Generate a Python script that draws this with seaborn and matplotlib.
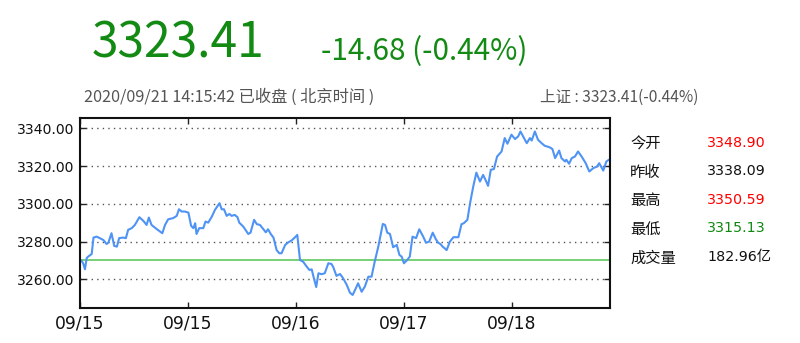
import matplotlib
matplotlib.use("Agg")
import matplotlib.pyplot as plt
import seaborn as sns
import pandas as pd

# ---- data ----
minutes = [2, 7, 11, 15, 18, 26, 30, 37, 44, 52, 59, 63, 70, 76, 82, 87, 96, 102, 107, 115,
           122, 132, 141, 148, 153, 159, 170, 178, 183, 189, 196, 207, 215, 220, 226, 233, 241, 247, 252, 256,
           259, 265, 274, 279, 285, 293, 300, 310, 315, 320, 326, 332, 337, 344, 350, 354, 363, 374, 379, 387,
           393, 400, 413, 418, 424, 430, 437, 443, 448, 456, 463, 470, 476, 483, 489, 496, 504, 510, 515, 518,
           525, 530, 537, 544, 552, 559, 563, 570, 578, 585, 593, 600, 606, 613, 618, 626, 633, 641, 648, 655,
           663, 673, 678, 683, 689, 696, 704, 710, 715, 720, 726, 733, 739, 747, 754, 762, 769, 776, 784, 791,
           796, 801, 806, 815, 822, 830, 841, 848, 853, 861, 867, 874, 881, 889, 896, 902, 907, 913, 920, 927,
           937, 944, 950, 959, 967, 974, 979, 987, 993, 1000, 1004, 1011, 1018, 1026, 1033, 1043, 1050, 1056, 1065, 1070,
           1078, 1081, 1087, 1093, 1100, 1107, 1115, 1124, 1132, 1141, 1149, 1154, 1163, 1170, 1176]
prices = [3270.2, 3268.5, 3265.3, 3271.3, 3272.0, 3273.4, 3282.1, 3282.6, 3281.8, 3280.8,
          3278.7, 3279.4, 3284.4, 3277.7, 3277.3, 3281.8, 3282.1, 3281.8, 3286.2, 3287.1,
          3288.8, 3292.9, 3290.9, 3288.8, 3292.7, 3288.8, 3286.7, 3285.3, 3284.4, 3288.8,
          3291.8, 3292.4, 3293.6, 3297.1, 3295.9, 3295.9, 3295.3, 3288.3, 3287.1, 3289.7,
          3284.0, 3287.1, 3287.1, 3290.6, 3290.0, 3293.2, 3296.8, 3300.3, 3297.1, 3297.1,
          3293.6, 3294.6, 3293.6, 3294.1, 3292.9, 3290.0, 3287.9, 3284.0, 3284.7, 3291.5,
          3289.2, 3288.8, 3284.9, 3286.5, 3284.0, 3282.1, 3275.5, 3273.8, 3273.8, 3278.2,
          3279.6, 3280.5, 3281.8, 3283.5, 3270.2, 3269.3, 3266.7, 3264.9, 3265.3, 3262.3,
          3255.9, 3263.2, 3262.7, 3263.2, 3268.5, 3268.1, 3266.4, 3261.8, 3262.8, 3260.5,
          3257.0, 3252.9, 3251.7, 3255.2, 3257.9, 3253.4, 3256.1, 3261.4, 3261.4, 3269.3,
          3277.3, 3289.3, 3288.8, 3284.7, 3284.0, 3277.0, 3278.2, 3272.9, 3272.0, 3268.5,
          3269.9, 3272.0, 3282.6, 3281.8, 3286.5, 3283.0, 3279.4, 3279.9, 3284.7, 3281.2,
          3279.4, 3278.7, 3277.3, 3275.5, 3279.9, 3282.3, 3282.3, 3289.2, 3289.7, 3291.5,
          3300.3, 3309.1, 3316.5, 3311.8, 3315.3, 3312.3, 3309.5, 3318.0, 3318.4, 3325.0,
          3327.7, 3334.8, 3331.8, 3336.6, 3334.3, 3335.7, 3338.3, 3334.8, 3332.1, 3334.8,
          3333.5, 3338.3, 3333.9, 3332.1, 3330.7, 3330.0, 3329.0, 3324.2, 3328.2, 3324.2,
          3322.4, 3323.3, 3321.2, 3324.2, 3325.0, 3327.7, 3325.0, 3321.5, 3317.1, 3318.9,
          3319.7, 3321.5, 3317.6, 3322.4, 3323.41]
baseline = 3270.2
x_tick_pos = [0, 240, 480, 720, 960]
x_tick_labels = ["09/15", "09/15", "09/16", "09/17", "09/18"]
y_ticks = [3260, 3280, 3300, 3320, 3340]

last_price = "3323.41"
change_text = "-14.68 (-0.44%)"
time_text = "2020/09/21 14:15:42 已收盘 ( 北京时间 )"
index_text = "上证 : 3323.41(-0.44%)"
stat_labels = ["今开", "昨收", "最高", "最低", "成交量"]
stat_values = ["3348.90", "3338.09", "3350.59", "3315.13", "182.96亿"]
stat_colors = ["#ff0000", "#111111", "#ff0000", "#118811", "#111111"]

df = pd.DataFrame({"minute": minutes, "price": prices})

sns.set_theme(style="white")
plt.rcParams["font.family"] = ["DejaVu Sans"]

W, H = 800, 343
fig = plt.figure(figsize=(W / 100, H / 100), dpi=100)
ax = fig.add_axes([80 / W, 1 - 308 / H, 530 / W, (308 - 117.5) / H])

sns.lineplot(data=df, x="minute", y="price", ax=ax, color="#4f93f5", linewidth=1.5)
ax.axhline(baseline, color="#77d077", linewidth=1.4, zorder=1)

ax.set_xlim(0, 1178)
ax.set_ylim(3244.8, 3345.7)
ax.set_xticks(x_tick_pos)
ax.set_xticklabels(x_tick_labels, fontsize=12.3, color="#111111")
ax.set_yticks(y_ticks)
ax.set_yticklabels([f"{v:.2f}" for v in y_ticks], fontsize=10.1, color="#111111")
ax.set_xlabel("")
ax.set_ylabel("")
ax.tick_params(axis="both", direction="in", length=4, width=1, color="#222222",
               top=True, right=True, bottom=True, left=True)
ax.tick_params(axis="x", pad=5)
ax.tick_params(axis="y", pad=4)
ax.yaxis.grid(True, linestyle=(0, (1, 3)), color="#555555", linewidth=1)
ax.xaxis.grid(False)
for s in ax.spines.values():
    s.set_color("#111111")
    s.set_linewidth(1.5)

cjk = ["Noto Sans CJK SC", "DejaVu Sans"]
latin = ["DejaVu Sans", "Noto Sans CJK SC"]

def ftext(x, y, s, family=cjk, **kw):
    fig.text(x / W, 1 - y / H, s, family=family, va="baseline", **kw)

ftext(92, 57.3, last_price, fontsize=34.5, color="#138a13", ha="left")
ftext(321, 60.5, change_text, fontsize=21.4, color="#138a13", ha="left")
ftext(84, 102, time_text, fontsize=11.7, color="#555555", ha="left")
ftext(698, 102, index_text, fontsize=11.2, color="#555555", ha="right")

rows_y = [146.7, 175.3, 203.8, 232.3, 261.0]
for lab, val, col, yy in zip(stat_labels, stat_values, stat_colors, rows_y):
    ftext(630, yy + 1.5, lab, fontsize=11, color="#111111", ha="left")
    ftext(707, yy, val, family=latin, fontsize=10.3, color=col, ha="left")

fig.savefig("out.png", dpi=100)
